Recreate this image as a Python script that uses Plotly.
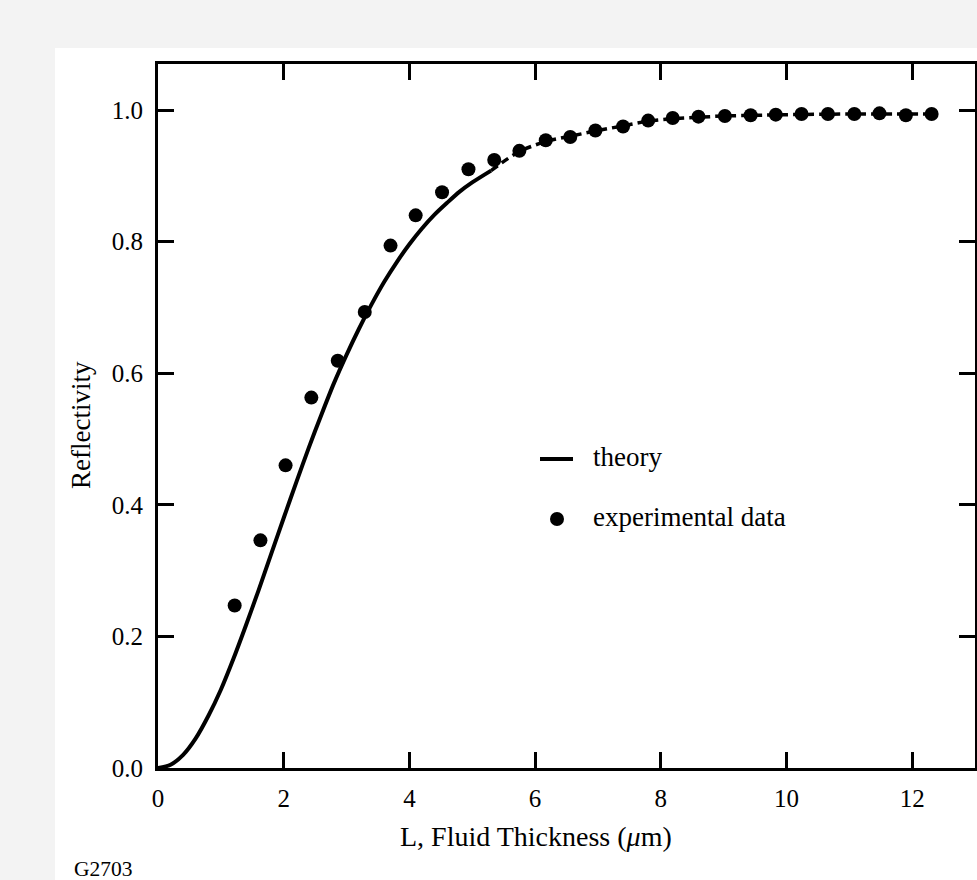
import plotly.graph_objects as go

# ---- data ----
exp_x = [1.22, 1.63, 2.03, 2.44, 2.86, 3.29, 3.70, 4.10, 4.52, 4.94, 5.35, 5.75,
         6.17, 6.56, 6.96, 7.40, 7.80, 8.19, 8.60, 9.02, 9.43, 9.83, 10.24, 10.66,
         11.08, 11.48, 11.90, 12.31]
exp_y = [0.247, 0.346, 0.460, 0.563, 0.619, 0.693, 0.794, 0.840, 0.875, 0.910, 0.924, 0.938,
         0.954, 0.959, 0.969, 0.975, 0.984, 0.988, 0.990, 0.991, 0.992, 0.993, 0.994, 0.994,
         0.994, 0.995, 0.992, 0.994]

theory_solid_x = [0.0, 0.2, 0.4, 0.6, 0.8, 1.0, 1.2, 1.4, 1.6, 1.8, 2.0, 2.2, 2.4, 2.6,
                  2.8, 3.0, 3.2, 3.4, 3.6, 3.8, 4.0, 4.2, 4.4, 4.6, 4.8, 5.0, 5.3]
theory_solid_y = [0.0, 0.005, 0.020, 0.045, 0.079, 0.119, 0.166, 0.217, 0.270, 0.325, 0.380,
                  0.434, 0.487, 0.537, 0.585, 0.628, 0.668, 0.705, 0.739, 0.769, 0.796, 0.820,
                  0.841, 0.859, 0.876, 0.890, 0.908]

theory_dash_x = [5.3, 5.75, 6.2, 6.6, 7.0, 7.4, 7.8, 8.2, 8.6, 9.0, 9.5, 10.0, 11.0, 12.3]
theory_dash_y = [0.908, 0.937, 0.953, 0.961, 0.969, 0.976, 0.983, 0.987, 0.989, 0.991, 0.992,
                 0.993, 0.994, 0.994]

x_ticks = [0, 2, 4, 6, 8, 10, 12]
y_ticks = [0.0, 0.2, 0.4, 0.6, 0.8, 1.0]
legend_labels = ["theory", "experimental data"]

FONT = "Liberation Serif"

fig = go.Figure()
fig.add_trace(go.Scatter(x=theory_solid_x, y=theory_solid_y, mode="lines", name=legend_labels[0],
                         line=dict(color="black", width=4, shape="spline", smoothing=0.8),
                         showlegend=False))
fig.add_trace(go.Scatter(x=theory_dash_x, y=theory_dash_y, mode="lines", showlegend=False,
                         line=dict(color="black", width=3.5, shape="spline", smoothing=0.8,
                                   dash="8px,5px")))
fig.add_trace(go.Scatter(x=exp_x, y=exp_y, mode="markers", name=legend_labels[1],
                         marker=dict(color="black", size=14), showlegend=False))

L, R, T, B = 158, 2, 64, 112
W, H = 977, 880
pw, ph = W - L - R, H - T - B

def px(xp):
    return (xp - L) / pw

def py(yp):
    return (H - B - yp) / ph

axis_common = dict(showline=True, linewidth=3, linecolor="black", mirror="ticks",
                   ticks="inside", ticklen=16, tickwidth=2.5, tickcolor="black",
                   showgrid=False, zeroline=False,
                   tickfont=dict(family=FONT, size=25, color="black"))

# hand-placed legend (short line, wide gap, as in the figure)
leg_line_y, leg_dot_y, leg_text_x = 459, 519, 591
legend_shapes = [
    dict(type="line", xref="paper", yref="paper", x0=px(540), x1=px(573),
         y0=py(leg_line_y), y1=py(leg_line_y), line=dict(color="black", width=4)),
    dict(type="circle", xref="paper", yref="paper", x0=px(550), x1=px(564),
         y0=py(leg_dot_y + 7), y1=py(leg_dot_y - 7), fillcolor="black",
         line=dict(color="black", width=0)),
]
legend_ann = [
    dict(text=legend_labels[0], xref="paper", yref="paper", x=px(leg_text_x), y=py(leg_line_y - 2),
         xanchor="left", yanchor="middle", showarrow=False, font=dict(family=FONT, size=27)),
    dict(text=legend_labels[1], xref="paper", yref="paper", x=px(leg_text_x), y=py(leg_dot_y - 2),
         xanchor="left", yanchor="middle", showarrow=False, font=dict(family=FONT, size=27)),
]

fig.update_layout(
    width=W, height=H,
    margin=dict(l=L, r=R, t=T, b=B, autoexpand=False),
    paper_bgcolor="white", plot_bgcolor="white",
    showlegend=False,
    xaxis=dict(range=[0, 13], tickvals=x_ticks, ticklabelstandoff=6, **axis_common),
    yaxis=dict(range=[0, 1.07], tickvals=y_ticks, tickformat=".1f", ticklabelstandoff=7,
               **axis_common),
    font=dict(family=FONT, color="black"),
    annotations=[
        dict(text="Reflectivity", xref="paper", yref="paper", x=px(81), y=py(425),
             xanchor="center", yanchor="middle",
             textangle=-90, showarrow=False, font=dict(family=FONT, size=27)),
        dict(text="L, Fluid Thickness (<i>μ</i>m)", xref="paper", yref="paper",
             x=px(536), y=py(836), xanchor="center", yanchor="middle",
             showarrow=False, font=dict(family=FONT, size=28)),
        dict(text="G2703", xref="paper", yref="paper", x=px(72), y=py(869),
             xanchor="left", yanchor="middle", showarrow=False, font=dict(family=FONT, size=21.5)),
    ] + legend_ann,
    shapes=[
        dict(type="rect", xref="paper", yref="paper", x0=px(0), x1=px(55), y0=py(880), y1=py(0),
             fillcolor="#f3f3f3", line=dict(width=0), layer="below"),
        dict(type="rect", xref="paper", yref="paper", x0=px(0), x1=px(977), y0=py(48), y1=py(0),
             fillcolor="#f3f3f3", line=dict(width=0), layer="below"),
    ] + legend_shapes,
)

fig.write_html("out.html")
